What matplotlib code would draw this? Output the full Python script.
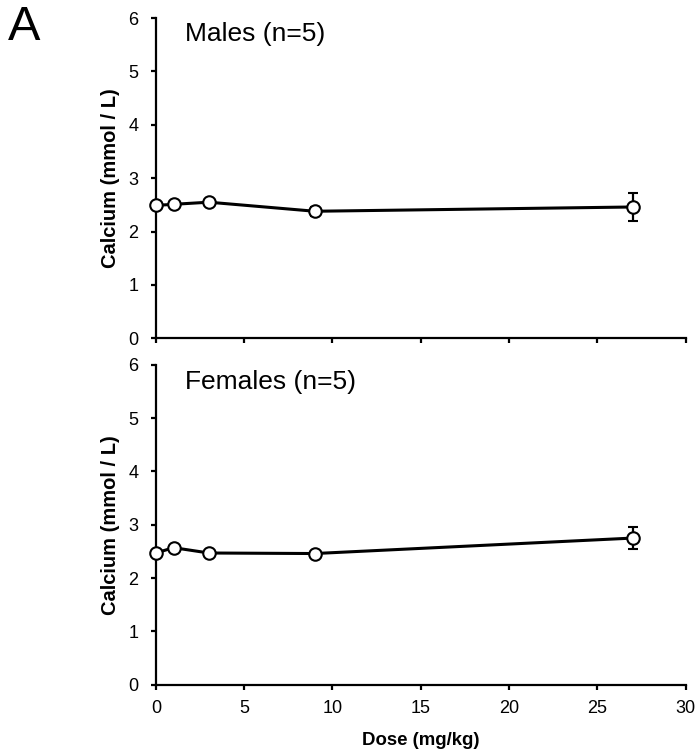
import matplotlib
matplotlib.use("Agg")
import matplotlib.pyplot as plt

plt.rcParams['font.family'] = ['Liberation Sans', 'DejaVu Sans']

dose = [0, 1, 3, 9, 27]
males_mean = [2.49, 2.51, 2.55, 2.38, 2.46]
males_err = [0.05, 0.05, 0.05, 0.08, 0.26]
females_mean = [2.47, 2.57, 2.47, 2.46, 2.75]
females_err = [0.05, 0.05, 0.05, 0.05, 0.21]
panel_titles = ["Males (n=5)", "Females (n=5)"]
x_ticks = [0, 5, 10, 15, 20, 25, 30]
y_ticks = [0, 1, 2, 3, 4, 5, 6]

fig = plt.figure(figsize=(6.99, 7.55), dpi=100)
ax1 = fig.add_axes([0.223, 0.552, 0.758, 0.424])
ax2 = fig.add_axes([0.223, 0.093, 0.758, 0.424])

for ax, mean, err, title, ty in [(ax1, males_mean, males_err, panel_titles[0], 0.95),
                                 (ax2, females_mean, females_err, panel_titles[1], 0.945)]:
    ax.errorbar(dose, mean, yerr=err, color='black', lw=2.2, elinewidth=1.6,
                capsize=3.8, capthick=1.6, marker='o', markersize=9,
                markerfacecolor='white', markeredgecolor='black',
                markeredgewidth=1.5, zorder=3, clip_on=False)
    ax.set_xlim(0, 30)
    ax.set_ylim(0, 6)
    ax.set_xticks(x_ticks)
    ax.set_yticks(y_ticks)
    for s in ['top', 'right']:
        ax.spines[s].set_visible(False)
    for s in ['left', 'bottom']:
        ax.spines[s].set_linewidth(1.6)
    ax.tick_params(direction='out', length=3.6, width=1.6, labelsize=13)
    ax.tick_params(axis='y', pad=9)
    ax.tick_params(axis='x', pad=7)
    ax.set_ylabel("Calcium (mmol / L)", fontsize=14.5, fontweight='bold', labelpad=6)
    ax.text(0.055, ty, title, transform=ax.transAxes, fontsize=19,
            va='center', ha='left')

ax1.set_xticklabels([])
ax2.set_xlabel("Dose (mg/kg)", fontsize=13.4, fontweight='bold', labelpad=11.5)

fig.text(0.012, 0.964, "A", fontsize=35, va='center', ha='left')

fig.savefig("out.png", dpi=100)
